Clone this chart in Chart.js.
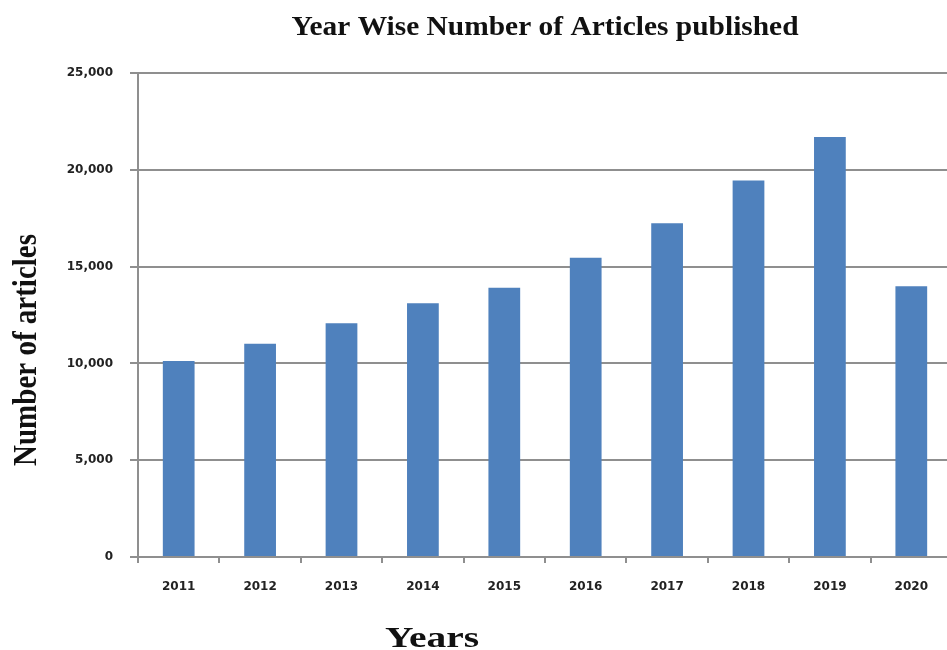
<!DOCTYPE html>
<html>
<head>
<meta charset="utf-8">
<script src="https://cdn.jsdelivr.net/npm/chart.js@4"></script>
<style>
    html, body { margin: 0; padding: 0; background: #fff; overflow: hidden; }
    #wrap { width: 947px; height: 650px; overflow: hidden; }
</style>
</head>
<body>
<div id="wrap"><canvas id="chart" width="960" height="650"></canvas></div>
<script>
// chart data
var years    = [ '2011', '2012', '2013', '2014', '2015', '2016', '2017', '2018', '2019', '2020' ];
var articles = [ 10120, 11010, 12080, 13110, 13910, 15460, 17240, 19450, 21690, 13990 ];
var yTicks   = [ 0, 5000, 10000, 15000, 20000, 25000 ];

var chartTitle = 'Year Wise Number of Articles published';
var xTitle     = 'Years';
var yTitle     = 'Number of articles';

var barColor  = '#4F81BD';
var gridColor = '#8f8f8f';
var tickFont  = { family: 'DejaVu Sans', size: 12, weight: 'bold' };

/** The source picture is stretched sideways a little, so the titles are drawn wider than the font */
function stretchedText( ctx, text, font, x, y, sx, angle, baseline ) {
    ctx.save();
    ctx.font         = font;
    ctx.fillStyle    = '#111';
    ctx.textAlign    = 'center';
    ctx.textBaseline = baseline || 'alphabetic';
    ctx.translate( x, y );
    ctx.scale( sx, 1 );
    if ( angle ) {
        ctx.rotate( angle );
    }
    ctx.fillText( text, 0, 0 );
    ctx.restore();
}

var titles = {
    id: 'stretchedTitles',
    afterDraw: function( chart ) {
        var ctx  = chart.ctx;
        var area = chart.chartArea;
        stretchedText( ctx, chartTitle, 'bold 27px "Liberation Serif"', ( area.left + area.right ) / 2, 35, 1.09 );
        stretchedText( ctx, xTitle, 'bold 29px "Liberation Serif"', 432, 647, 1.36 );
        stretchedText( ctx, yTitle, 'bold 29px "Liberation Serif"', 27, 350, 1.15, -Math.PI / 2, 'middle' );
    }
};

var chart = new Chart( document.getElementById( 'chart' ), {
    type: 'bar',
    data: {
        labels: years,
        datasets: [{
            label           : yTitle,
            data            : articles,
            backgroundColor : barColor,
            barPercentage   : 0.39,
            categoryPercentage : 1.0
        }]
    },
    plugins: [ titles ],
    options: {
        responsive  : false,
        animation   : false,
        layout      : { padding: { left: 0, right: 8, top: 73, bottom: 0 } },
        plugins: {
            legend  : { display: false },
            tooltip : { enabled: false },
            title   : { display: false }
        },
        scales: {
            x: {
                grid   : { display: true, drawOnChartArea: false, drawTicks: true, tickLength: 6, color: gridColor, lineWidth: 2, offset: true },
                border : { display: true, color: gridColor, width: 2 },
                ticks  : { color: '#222', font: tickFont, padding: 17, maxRotation: 0 },
                afterFit: function( scale ) { scale.height = 93; }
            },
            y: {
                min : 0,
                max : 25000,
                afterBuildTicks: function( scale ) {
                    scale.ticks = yTicks.map( function( v ) { return { value: v }; } );
                },
                grid   : { color: gridColor, lineWidth: 2, tickLength: 8 },
                border : { display: true, color: gridColor, width: 2 },
                ticks  : { color: '#222', font: tickFont, padding: 17 },
                afterFit: function( scale ) { scale.width = 138; }
            }
        }
    }
});
</script>
</body>
</html>
